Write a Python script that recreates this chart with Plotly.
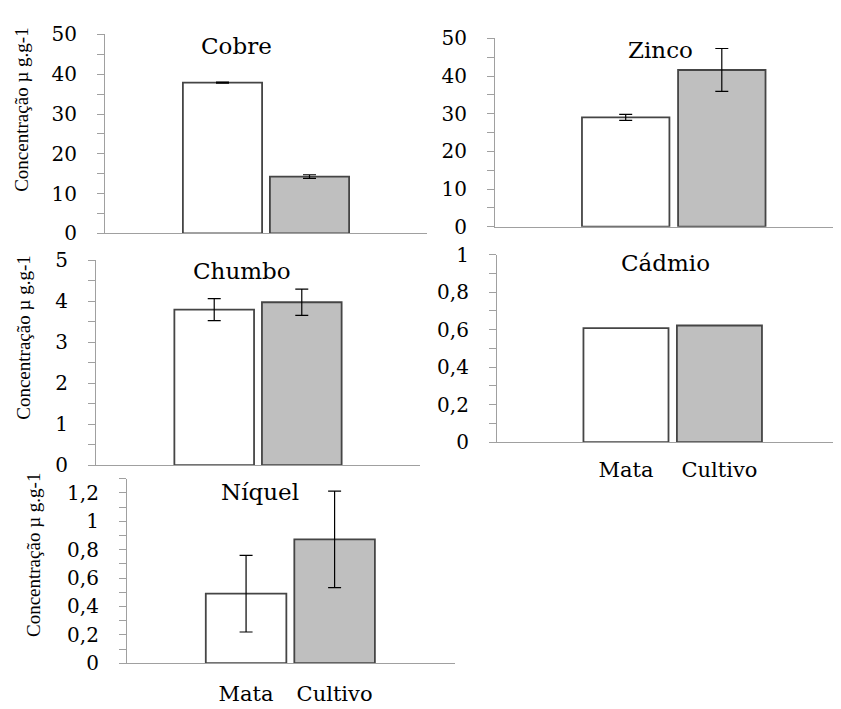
import plotly.graph_objects as go

# ---------------- data ----------------
categories = ["Mata", "Cultivo"]
titles = ["Cobre", "Zinco", "Chumbo", "Cádmio", "Níquel"]

cobre = [37.9, 14.3]
cobre_err = [0.15, 0.45]
zinco = [29.0, 41.6]
zinco_err = [0.8, 5.7]
chumbo = [3.80, 3.98]
chumbo_err = [0.27, 0.32]
cadmio = [0.608, 0.622]
cadmio_err = None
niquel = [0.49, 0.873]
niquel_err = [0.27, 0.34]

y_label = "Concentração µ g.g-1"

values = [cobre, zinco, chumbo, cadmio, niquel]
errors = [cobre_err, zinco_err, chumbo_err, cadmio_err, niquel_err]

# ---------------- layout helpers ----------------
OFF = 8  # page body margin of the html page
W, H = 841 - OFF, 709 - OFF


def px_x(v):
    return (v - OFF) / W


def px_y(v):
    return 1 - (v - OFF) / H


# panel boxes in window pixels: (left, right, top, bottom)
boxes = [
    (105, 427, 23, 229),
    (495, 840, 27, 222),
    (96, 420, 257, 469),
    (497, 840, 251, 445),
    (127, 455, 483, 674),
]
x_ranges = [[-1.35, 2.35], [-1.36, 2.23], [-1.35, 2.35], [-1.38, 2.29], [-1.345, 2.36]]
y_ranges = [[0, 50], [0, 50], [0, 5], [0, 1], [0, 1.3]]
y_dticks = [10, 10, 1, 0.2, 0.2]
y_minor = [5, 5, 0.5, 0.1, 0.1]
show_xlabels = [False, False, False, True, True]
xlabel_standoff = [0, 0, 0, 9, 12]
title_pos = [(236, 35), (660, 39), (242, 268), (665, 260), (260, 497)]
ylabel_pos = [(22, 101), None, (24, 337), None, (33, 562)]

AXIS_GRAY = "#a0a0a0"
EDGE = "#454545"
SERIF = "DejaVu Serif, Liberation Serif, serif"

fig = go.Figure()
layout = dict(
    width=W,
    height=H,
    margin=dict(l=0, r=0, t=0, b=0),
    paper_bgcolor="white",
    plot_bgcolor="white",
    showlegend=False,
    separators=",.",
    font=dict(family=SERIF, size=20, color="black"),
    annotations=[],
)

for i in range(5):
    n = i + 1
    xa = "x" if n == 1 else f"x{n}"
    ya = "y" if n == 1 else f"y{n}"
    err = errors[i]
    fig.add_trace(
        go.Bar(
            x=categories,
            y=values[i],
            xaxis=xa,
            yaxis=ya,
            width=0.91,
            marker=dict(color=["white", "#bfbfbf"], line=dict(color=EDGE, width=1.8)),
            error_y=(
                dict(type="data", array=err, visible=True, color="black", thickness=1.2, width=6.5)
                if err is not None
                else dict(visible=False)
            ),
        )
    )
    l, r, t, b = boxes[i]
    layout["xaxis" if n == 1 else f"xaxis{n}"] = dict(
        domain=[px_x(l), min(px_x(r), 1.0)],
        anchor=ya,
        type="category",
        range=x_ranges[i],
        showline=True,
        linecolor=AXIS_GRAY,
        linewidth=1.2,
        ticks="",
        showgrid=False,
        zeroline=False,
        showticklabels=show_xlabels[i],
        ticklabelstandoff=xlabel_standoff[i],
        tickfont=dict(family=SERIF, size=21, color="black"),
    )
    layout["yaxis" if n == 1 else f"yaxis{n}"] = dict(
        domain=[px_y(b), px_y(t)],
        anchor=xa,
        range=y_ranges[i],
        dtick=y_dticks[i],
        tick0=0,
        showline=True,
        linecolor=AXIS_GRAY,
        linewidth=1.2,
        ticks="outside",
        ticklen=7,
        tickcolor=AXIS_GRAY,
        tickwidth=1.2,
        minor=dict(dtick=y_minor[i], tick0=0, ticks="outside", ticklen=7, tickcolor=AXIS_GRAY, tickwidth=1.2, showgrid=False),
        showgrid=False,
        zeroline=False,
        ticklabelstandoff=16,
        tickfont=dict(family=SERIF, size=20, color="black"),
    )
    tx, ty = title_pos[i]
    layout["annotations"].append(
        dict(
            text=titles[i],
            x=px_x(tx),
            y=px_y(ty),
            xref="paper",
            yref="paper",
            xanchor="center",
            yanchor="middle",
            showarrow=False,
            font=dict(family=SERIF, size=23, color="black"),
        )
    )
    if ylabel_pos[i] is not None:
        lx, ly = ylabel_pos[i]
        layout["annotations"].append(
            dict(
                text=y_label,
                x=px_x(lx),
                y=px_y(ly),
                xref="paper",
                yref="paper",
                xanchor="center",
                yanchor="middle",
                textangle=-90,
                showarrow=False,
                font=dict(family="Liberation Serif, Times New Roman, serif", size=19, color="black"),
            )
        )

fig.update_layout(**layout)
fig.write_html("out.html")
